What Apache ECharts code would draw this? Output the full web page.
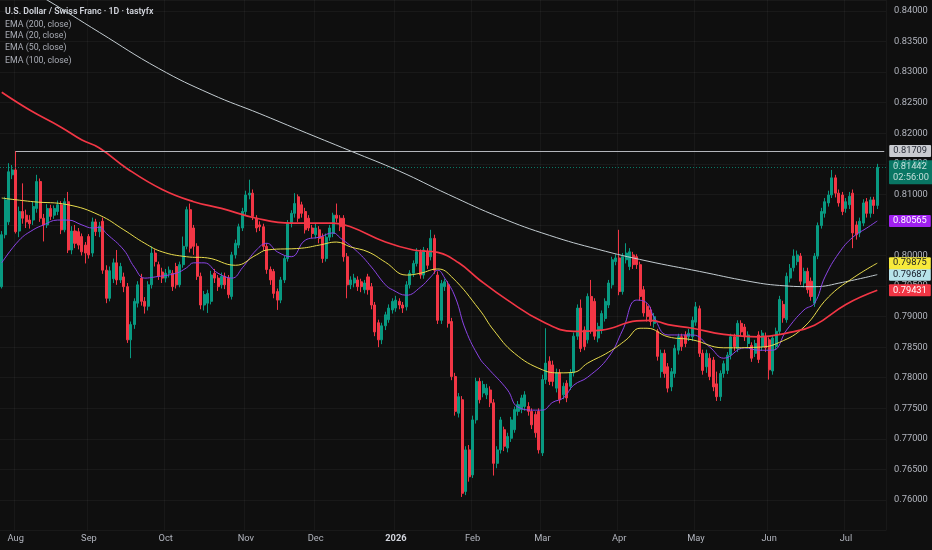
<!DOCTYPE html>
<html><head><meta charset="utf-8">
<script src="https://cdn.jsdelivr.net/npm/echarts@6/dist/echarts.min.js"></script>
<style>html,body{margin:0;padding:0;background:#0f0f0f;}#c{width:932px;height:550px;}</style>
</head><body><div id="c"></div>
<script>
// ---------- DATA ----------
const START_DATE = '2025-07-28';
const EMPTY_RIGHT_SLOTS = 2;
const PIP = 0.0001;
const TITLE = 'U.S. Dollar / Swiss Franc · 1D · tastyfx';
const LEGEND_ITEMS = ['EMA (200, close)', 'EMA (20, close)', 'EMA (50, close)', 'EMA (100, close)'];
const LEVEL_VALUE = 0.81709;
const LEVEL_START_INDEX = 4;
const COUNTDOWN = '02:56:00';
const PRICE_TICKS = {min: 0.755, max: 0.8418, interval: 0.005};

// candles [open, close, low, high] in pips (x 0.0001)
const candlesJulAug = [
[7949,8034,7946,8040],[8034,8091,8028,8096],[8055,8137,8050,8151],[8132,8140,8125,8148],
[8140,8039,8036,8171],[8040,8072,8030,8080],[8072,8061,8052,8118],[8066,8055,8045,8075],
[8058,8052,8044,8066],[8058,8080,8050,8088],[8077,8121,8070,8132],[8121,8061,8055,8126],
[8061,8050,8023,8068],[8050,8077,8045,8084],[8077,8064,8058,8083],[8066,8077,8060,8082],
[8072,8083,8066,8090],[8083,8042,8035,8089],[8042,8088,8038,8094],[8088,8009,8004,8104],
[8009,8040,8002,8048],[8040,8020,8012,8050],[8039,8017,8010,8045],[8031,8006,8000,8036],
[8017,8004,7987,8022],[8031,8001,7995,8035],[8004,8055,7998,8062],[8055,8039,8032,8060]
];
const candlesSepOct = [
[8039,8048,8030,8055],[8056,7976,7970,8062],[7976,7930,7922,7984],[7930,7975,7925,7982],
[7962,7988,7955,7995],[7988,7960,7952,8009],[7960,7982,7955,7988],[7965,7949,7940,7972],
[7949,7862,7857,7955],[7862,7887,7832,7892],[7887,7925,7880,7930],[7922,7952,7915,7958],
[7963,7925,7918,7970],[7925,7917,7905,7932],[7917,7952,7910,7958],[7952,8004,7946,8015],
[8004,7990,7982,8010],[7985,7966,7960,7990],[7973,7963,7955,7980],[7963,7971,7956,7978],
[7971,7976,7964,7982],[7971,7949,7942,7976],[7982,7952,7946,7988],[7952,7985,7948,7990],
[7985,8015,7980,8031],[8015,8075,8010,8080]
];
const candlesOctNov = [
[8075,8012,8005,8085],[8045,8015,8001,8050],[8015,7966,7960,8020],[7966,7919,7912,7972],
[7919,7936,7910,7942],[7922,7938,7906,7944],[7925,7968,7920,7975],[7971,7963,7955,7978],
[7963,7949,7942,7968],[7952,7966,7946,7972],[7966,7952,7945,7972],[7963,7936,7930,7968],
[7933,8001,7928,8006],[8001,8020,7995,8026],[8017,8047,8012,8052],[8045,8072,8040,8078],
[8072,8099,8066,8106],[8099,8102,8092,8124],[8102,8064,8058,8108],[8061,8045,8038,8066],
[8050,8047,8040,8056],[8047,8015,8008,8052],[8015,7977,7970,8020],[7977,7960,7952,7982],
[7974,7938,7930,7978],[7941,7927,7911,7946],[7927,7960,7922,7965],[7960,7995,7955,8000],
[7995,8053,7990,8058]
];
const candlesNovDec = [
[8053,8069,8046,8074],[8069,8085,8062,8102],[8096,8061,8055,8100],[8083,8069,8062,8088],
[8072,8042,8036,8078],[8061,8045,8040,8066],[8045,8036,8028,8050],[8034,8045,8028,8052],
[8042,8028,8020,8048],[8031,7995,7988,8036],[7995,8030,7990,8036],[8030,8045,8024,8050],
[8036,8066,8030,8070],[8066,8061,8054,8085],[8061,8047,8040,8066],[8061,7998,7990,8066],
[7998,7952,7930,8004],[7952,7960,7945,7966],[7955,7963,7948,7970],[7960,7949,7942,7966],
[7957,7949,7940,7962],[7944,7955,7938,7960],[7965,7944,7936,7970],[7949,7919,7912,7955],
[7919,7875,7868,7924],[7890,7862,7850,7895],[7862,7885,7855,7890]
];
const candlesDecJan = [
[7885,7903,7878,7908],[7895,7914,7890,7920],[7911,7925,7905,7930],[7914,7927,7908,7934],
[7925,7919,7912,7930],[7919,7914,7906,7924],[7916,7952,7910,7958],[7952,7971,7946,7976],
[7971,7987,7965,7992],[7987,8006,7982,8012],[8006,7968,7962,8010],[7968,8009,7962,8014],
[8006,7984,7978,8012],[7998,8028,7992,8042],[8028,7976,7970,8034],[7968,7894,7888,7974],
[7894,7954,7888,7960],[7949,7957,7942,7962],[7952,7889,7882,7958],[7892,7802,7796,7898],
[7802,7745,7738,7808],[7742,7769,7735,7775],[7764,7611,7605,7770],[7614,7682,7608,7688],
[7682,7638,7630,7690],[7641,7731,7636,7738],[7731,7794,7725,7800]
];
const candlesFebMar = [
[7794,7764,7758,7800],[7775,7789,7768,7795],[7772,7783,7765,7790],[7780,7759,7752,7786],
[7759,7660,7640,7765],[7660,7682,7652,7688],[7682,7731,7676,7736],[7715,7688,7680,7720],
[7685,7704,7678,7710],[7701,7731,7695,7736],[7715,7748,7710,7753],[7745,7756,7738,7762],
[7748,7767,7742,7772],[7753,7772,7746,7778],[7753,7745,7738,7760],[7745,7723,7716,7750],
[7740,7710,7702,7745],[7745,7682,7676,7750],[7677,7797,7672,7805],[7797,7824,7790,7881],
[7827,7794,7788,7835],[7821,7794,7786,7828],[7783,7808,7776,7815],[7808,7764,7758,7814],
[7772,7786,7765,7792],[7791,7767,7760,7796],[7786,7808,7780,7814],[7808,7868,7802,7874]
];
const candlesMarApr = [
[7868,7914,7862,7920],[7914,7848,7842,7928],[7878,7851,7845,7884],[7862,7933,7856,7938],
[7933,7878,7872,7960],[7925,7868,7862,7930],[7865,7884,7858,7890],[7878,7905,7872,7910],
[7897,7925,7892,7930],[7919,7955,7914,7960],[7952,7993,7946,7998],[7990,7996,7984,8002],
[7996,7941,7935,8042],[7941,7998,7936,8004],[7993,8004,7987,8020],[7982,8006,7976,8012],
[8001,7985,7978,8006],[7998,7985,7978,8002],[7985,7933,7926,7990],[7944,7906,7900,7950],
[7917,7900,7892,7922],[7911,7892,7885,7916],[7889,7900,7882,7906],[7876,7835,7828,7880]
];
const candlesAprMay = [
[7810,7840,7800,7846],[7840,7807,7800,7846],[7818,7783,7776,7824],[7785,7810,7778,7816],
[7807,7848,7800,7854],[7845,7867,7838,7872],[7867,7851,7844,7872],[7870,7856,7850,7876],
[7867,7873,7860,7880],[7867,7894,7860,7900],[7891,7916,7885,7924],[7913,7840,7834,7918],
[7840,7812,7805,7846],[7818,7840,7808,7846],[7832,7802,7796,7840],[7829,7785,7778,7834],
[7790,7769,7762,7810],[7769,7807,7762,7812],[7807,7823,7800,7828],[7812,7837,7806,7842],
[7837,7867,7830,7872],[7867,7851,7844,7872],[7848,7889,7842,7894],[7889,7875,7868,7894],
[7883,7867,7860,7888],[7856,7870,7850,7876],[7853,7832,7826,7858],[7840,7856,7834,7862]
];
const candlesJunJul = [
[7870,7830,7824,7876],[7851,7873,7844,7878],[7868,7849,7842,7874],[7862,7813,7797,7866],
[7811,7865,7805,7870],[7851,7876,7846,7882],[7876,7928,7870,7934],[7920,7898,7890,7926],
[7895,7966,7890,7972],[7963,7979,7956,7986],[7980,7999,7974,8010],[7990,8001,7984,8008],
[7999,7958,7952,8004],[7955,7974,7948,7980],[7974,7944,7938,7980],[7958,7933,7926,7964],
[7922,7999,7916,8004],[7999,8049,7994,8054],[8049,8072,8044,8078],[8069,8088,8062,8094],
[8086,8099,8080,8106],[8099,8127,8094,8140],[8127,8102,8095,8132],[8102,8086,8080,8108],
[8099,8072,8066,8104],[8077,8088,8070,8094],[8083,8097,8076,8104],[8102,8037,8012,8108],
[8050,8034,8026,8056],[8037,8056,8030,8062],[8053,8086,8048,8092],[8088,8069,8062,8094],
[8069,8091,8062,8096],[8091,8082,8068,8096],[8082,8144.2,8076,8150]
];

// EMA readings: [bar index, value]
const ema200 = [[6,0.8440],[13,0.8418],[28,0.8365],[45,0.8306],[60,0.8264],[74,0.8232],[85,0.8206],[100,0.8171],[114,0.8138],[128,0.8100],[143,0.8062],[157,0.8033],[171,0.8010],[185,0.7991],[200,0.7974],[214,0.7958],[223,0.7951],[233,0.7949],[241,0.7956],[251,0.79687]];
const ema20 = [[0,0.7988],[5,0.8025],[9,0.8042],[12,0.8050],[16,0.8058],[19,0.8058],[23,0.8050],[26,0.8045],[28,0.8046],[30,0.8036],[35,0.8009],[38,0.7981],[41,0.7963],[44,0.7965],[50,0.7971],[53,0.7980],[55,0.7988],[58,0.7988],[62,0.7971],[66,0.7963],[69,0.7980],[73,0.8009],[76,0.8020],[79,0.8006],[83,0.7998],[87,0.8025],[91,0.8030],[95,0.8037],[97,0.8029],[102,0.8006],[106,0.7981],[110,0.7952],[112,0.7944],[116,0.7935],[120,0.7948],[123,0.7965],[125,0.7976],[127,0.7963],[130,0.7932],[133,0.7878],[137,0.7832],[139,0.7818],[145,0.7780],[148,0.7752],[153,0.7747],[155,0.7747],[158,0.7760],[161,0.7767],[164,0.7788],[168,0.7801],[174,0.7834],[178,0.7878],[182,0.7927],[185,0.7922],[187,0.7899],[191,0.7870],[198,0.7870],[203,0.7850],[207,0.7832],[213,0.7849],[217,0.7845],[221,0.7845],[225,0.7878],[230,0.7911],[233,0.7922],[236,0.7965],[240,0.8004],[244,0.8030],[248,0.8045],[251,0.80565]];
const ema50 = [[0,0.8094],[9,0.8088],[19,0.8083],[28,0.8066],[35,0.8042],[41,0.8020],[46,0.8006],[53,0.7998],[59,0.7996],[67,0.7984],[73,0.8001],[76,0.8009],[86,0.8012],[91,0.8017],[96,0.8022],[100,0.8014],[105,0.8006],[110,0.7989],[116,0.7968],[120,0.7971],[125,0.7978],[129,0.7965],[137,0.7911],[141,0.7878],[147,0.7840],[155,0.7813],[160,0.7808],[164,0.7809],[168,0.7824],[174,0.7842],[179,0.7862],[183,0.7881],[185,0.7881],[191,0.7867],[198,0.7862],[207,0.7849],[217,0.7850],[223,0.7858],[230,0.7883],[237,0.7932],[244,0.7963],[251,0.79875]];
const ema100 = [[0,0.8267],[8,0.8238],[17,0.8210],[23,0.8189],[28,0.8176],[36,0.8142],[46,0.8108],[55,0.8088],[63,0.8077],[73,0.8061],[83,0.8053],[95,0.8053],[100,0.8047],[110,0.8022],[118,0.8009],[125,0.8005],[131,0.7988],[137,0.7960],[145,0.7927],[155,0.7892],[164,0.7876],[172,0.7878],[182,0.7893],[186,0.7894],[191,0.7887],[198,0.7881],[207,0.7871],[217,0.7867],[225,0.7873],[233,0.7886],[242,0.7920],[251,0.79431]];

const MONTHS = ['Jan','Feb','Mar','Apr','May','Jun','Jul','Aug','Sep','Oct','Nov','Dec'];

// ---------- BUILD ----------
const candlesPips = [].concat(candlesJulAug, candlesSepOct, candlesOctNov, candlesNovDec,
  candlesDecJan, candlesFebMar, candlesMarApr, candlesAprMay, candlesJunJul);
const candles = candlesPips.map(r => r.map(v => +(v * PIP).toFixed(5)));

function weekdays(start, n) {
  const out = []; const d = new Date(start + 'T00:00:00Z');
  while (out.length < n) {
    const w = d.getUTCDay();
    if (w !== 0 && w !== 6) out.push(d.toISOString().slice(0, 10));
    d.setUTCDate(d.getUTCDate() + 1);
  }
  return out;
}
const categories = weekdays(START_DATE, candles.length + EMPTY_RIGHT_SLOTS);
const monthStart = new Set();
for (let i = 1; i < categories.length; i++) {
  if (categories[i].slice(5, 7) !== categories[i - 1].slice(5, 7)) monthStart.add(i);
}
const isMonthStart = (idx) => monthStart.has(idx);
const lastClose = candles[candles.length - 1][1];

const FONT = 'Roboto, "Liberation Sans", sans-serif';
const tag = (bg, fg) => ({
  show: true, position: 'end', distance: 3,
  backgroundColor: bg, color: fg, fontSize: 9.3, fontFamily: FONT,
  padding: [2, 4, 1, 4], borderRadius: 1
});

function emaSeries(name, data, color, width, tagBg, tagFg) {
  const last = data[data.length - 1][1];
  return {
    name, type: 'line', data, showSymbol: false, symbol: 'none',
    smooth: 0.45, clip: true,
    lineStyle: {color, width}, z: 3, silent: true,
    markLine: {
      silent: true, symbol: ['none', 'none'], animation: false, precision: 6,
      data: [{yAxis: last, lineStyle: {color: 'rgba(0,0,0,0)', width: 1},
              label: Object.assign(tag(tagBg, tagFg), {formatter: () => last.toFixed(5)})}]
    }
  };
}

const chart = echarts.init(document.getElementById('c'), null, {renderer: 'canvas'});
chart.setOption({
  animation: false,
  backgroundColor: '#0f0f0f',
  grid: {left: 0, right: 46, top: 0, bottom: 19.44, outerBoundsMode: 'none', containLabel: false},
  xAxis: {
    type: 'category', data: categories, boundaryGap: true,
    axisLine: {show: false}, axisTick: {show: false},
    axisLabel: {
      interval: (idx) => isMonthStart(idx),
      formatter: (v) => {
        const m = +v.slice(5, 7);
        return m === 1 ? '{y|' + v.slice(0, 4) + '}' : MONTHS[m - 1];
      },
      color: '#b2b5be', fontSize: 9.3, fontFamily: FONT, margin: 4,
      rich: {y: {fontWeight: 'bold', color: '#d1d4dc', fontSize: 9.3, fontFamily: FONT}}
    },
    splitLine: {show: true, interval: (idx) => isMonthStart(idx), lineStyle: {color: 'rgba(255,255,255,0.04)', width: 1}}
  },
  yAxis: {
    type: 'value', position: 'right', scale: true,
    min: PRICE_TICKS.min, max: PRICE_TICKS.max, interval: PRICE_TICKS.interval,
    axisLine: {show: false}, axisTick: {show: false},
    axisLabel: {
      showMinLabel: false, showMaxLabel: false,
      formatter: (v) => (v < 0.7575 || v > 0.8405) ? '' : v.toFixed(5),
      color: '#b2b5be', fontSize: 9.3, fontFamily: FONT, margin: 8
    },
    splitLine: {lineStyle: {color: 'rgba(255,255,255,0.045)', width: 1}}
  },
  series: [
    {
      name: 'USDCHF', type: 'candlestick', data: candles, barWidth: '72%', silent: true, z: 2,
      itemStyle: {color: '#089981', color0: '#f23645', borderColor: '#089981', borderColor0: '#f23645', borderWidth: 1},
      markLine: {
        silent: true, symbol: ['none', 'none'], animation: false, precision: 6,
        data: [
          [
            {coord: [LEVEL_START_INDEX, LEVEL_VALUE], lineStyle: {color: '#b4b6bb', width: 1, type: 'solid'},
             label: Object.assign(tag('#c9cbd0', '#2a2e39'), {distance: 5, formatter: () => LEVEL_VALUE.toFixed(5)})},
            {coord: [categories.length - 1, LEVEL_VALUE]}
          ],
          {yAxis: lastClose, lineStyle: {color: '#089981', width: 1, type: [1, 2], opacity: 0.75},
           label: Object.assign(tag('#089981', '#ffffff'), {lineHeight: 10.5, offset: [0, 5], formatter: () => lastClose.toFixed(5) + '\n' + COUNTDOWN})}
        ]
      }
    },
    emaSeries('EMA200', ema200, '#c3ccd1', 1, '#b7e3ea', '#131722'),
    emaSeries('EMA20', ema20, '#8b44e6', 1, '#a020f0', '#ffffff'),
    emaSeries('EMA50', ema50, '#e9dc4c', 1, '#f7ea3b', '#131722'),
    emaSeries('EMA100', ema100, '#f23645', 1.7, '#f23645', '#ffffff')
  ],
  graphic: [
    {type: 'text', left: 5, top: 7.5, silent: true, style: {text: TITLE, fill: '#d1d4dc', fontSize: 8.8, fontWeight: 600, fontFamily: FONT}},
    {type: 'text', left: 5, top: 20, silent: true, style: {text: LEGEND_ITEMS[0], fill: '#a9acb5', fontSize: 8.8, fontFamily: FONT}},
    {type: 'text', left: 5, top: 31.5, silent: true, style: {text: LEGEND_ITEMS[1], fill: '#a9acb5', fontSize: 8.8, fontFamily: FONT}},
    {type: 'text', left: 5, top: 43.5, silent: true, style: {text: LEGEND_ITEMS[2], fill: '#a9acb5', fontSize: 8.8, fontFamily: FONT}},
    {type: 'text', left: 5, top: 56, silent: true, style: {text: LEGEND_ITEMS[3], fill: '#a9acb5', fontSize: 8.8, fontFamily: FONT}}
  ]
});
</script>
</body></html>
